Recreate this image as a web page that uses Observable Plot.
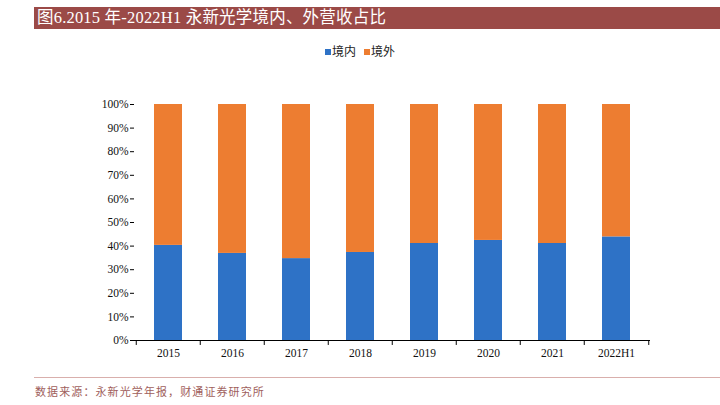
<!DOCTYPE html>
<html><head><meta charset="utf-8">
<script src="https://cdn.jsdelivr.net/npm/d3@7"></script>
<script src="https://cdn.jsdelivr.net/npm/@observablehq/plot@0.6"></script>
<style>
body{margin:0;background:#fff;width:720px;height:405px;overflow:hidden;position:relative;font-family:"Liberation Serif","Noto Sans CJK SC",serif;}
#title{position:absolute;left:34px;top:7px;width:686px;height:22px;background:#9B4A47;color:#fff;font-size:16.5px;line-height:22px;padding-left:3px;box-sizing:border-box;white-space:nowrap;font-family:"Liberation Serif","Noto Sans CJK SC",serif;letter-spacing:0.2px;}
#legend{position:absolute;top:42px;left:0;width:720px;text-align:center;font-family:"Noto Sans CJK SC",sans-serif;font-size:12px;color:#222;}
#legend span{display:inline-block;margin:0 4px;}
#legend i{display:inline-block;width:6px;height:6px;margin-right:1px;vertical-align:1px;}
#chart{position:absolute;top:64px;left:0;}
#rule{position:absolute;left:34px;top:377px;width:686px;height:1px;background:#D9AFAC;}
#caption{position:absolute;left:35px;top:383px;font-size:11px;color:#A0605C;font-family:"Noto Sans CJK SC",sans-serif;letter-spacing:1.1px;}
</style></head>
<body>
<div id="title">图6.2015 年-2022H1 永新光学境内、外营收占比</div>
<div id="legend"><span><i style="background:#2E72C6"></i>境内</span><span><i style="background:#ED7D31"></i>境外</span></div>
<div id="chart"></div>
<div id="rule"></div>
<div id="caption">数据来源：永新光学年报，财通证券研究所</div>
<script>
const categories = ["2015","2016","2017","2018","2019","2020","2021","2022H1"];
const series = ["境内","境外"];
const domestic = [0.403, 0.369, 0.347, 0.373, 0.411, 0.424, 0.411, 0.439];
const colors = ["#2E72C6","#ED7D31"];
const yTicks = [0,0.1,0.2,0.3,0.4,0.5,0.6,0.7,0.8,0.9,1.0];

const data = [];
categories.forEach((c,i)=>{
  data.push({cat:c, s:series[0], v:domestic[i]});
  data.push({cat:c, s:series[1], v:1-domestic[i]});
});

const W = 720, mL = 134, mR = 70;
const step = (W - mL - mR) / categories.length;

const chart = Plot.plot({
  width: W, height: 301,
  marginLeft: mL, marginRight: mR, marginTop: 40, marginBottom: 25,
  style: {fontFamily: "Liberation Serif, serif", fontSize: "11.5px", color: "#000", background: "transparent"},
  x: {domain: categories, paddingInner: 0.565, paddingOuter: 0.2825, label: null},
  y: {domain: [0,1], label: null},
  color: {domain: series, range: colors},
  marks: [
    Plot.barY(data, {x: "cat", y: "v", fill: "s", order: series}),
    Plot.axisY({ticks: yTicks, tickFormat: d3.format(".0%"), tickSize: 4, tickPadding: 2, stroke: "#000", fill: "#111", label: null}),
    Plot.ruleX([0], {frameAnchor: "left", stroke: "#000"}),
    Plot.ruleY([0], {stroke: "#000"}),
    Plot.axisX({tickSize: 0, tickPadding: 8, fill: "#111", label: null}),
    Plot.ruleX(categories, {x: d=>d, y1: 0, y2: -0.021, dx: -step/2, stroke: "#000"}),
    Plot.ruleX([categories[categories.length-1]], {x: d=>d, y1: 0, y2: -0.021, dx: step/2, stroke: "#000"})
  ]
});
document.getElementById("chart").appendChild(chart);
</script>
</body></html>
